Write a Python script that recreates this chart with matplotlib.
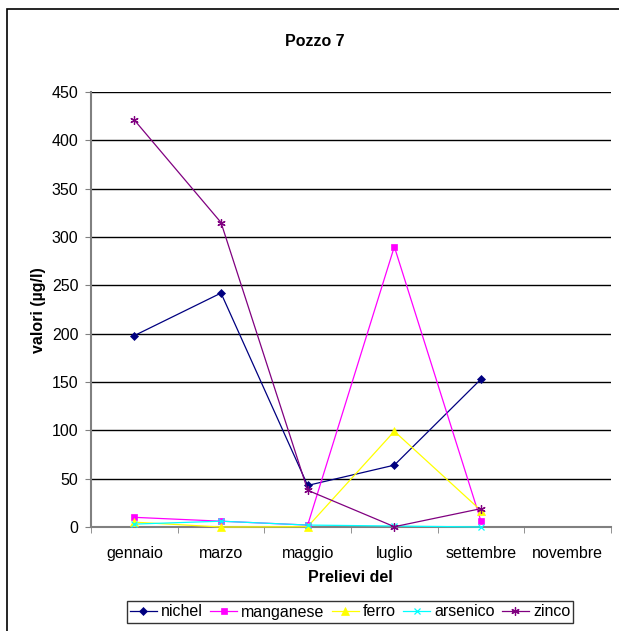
import matplotlib
matplotlib.use("Agg")
import matplotlib.pyplot as plt
from matplotlib.patches import Rectangle

plt.rcParams['font.family'] = ['Liberation Sans', 'DejaVu Sans']

categories = ["gennaio", "marzo", "maggio", "luglio", "settembre", "novembre"]
nichel = [198, 242, 43, 64, 153, None]
manganese = [10, 6, 2, 290, 6, None]
ferro = [5, 0, 0.3, 99, 17, None]
arsenico = [3, 6, 2, 1, 0, None]
zinco = [421, 315, 38, 0.3, 19, None]

series = [
    ("nichel", nichel, "#000080", "D", 4.5),
    ("manganese", manganese, "#FF00FF", "s", 5),
    ("ferro", ferro, "#FFFF00", "^", 5.5),
    ("arsenico", arsenico, "#00FFFF", "x", 5),
    ("zinco", zinco, "#800080", (6, 2, 0), 6),
]

fig = plt.figure(figsize=(6.19, 6.31), dpi=100)
fig.patches.append(Rectangle((7/619, -0.1), 1.2, 1 - 9/631 + 0.1, transform=fig.transFigure,
                             fill=False, edgecolor='black', linewidth=1.2))
ax = fig.add_axes([91/619, 1 - 527/631, (611 - 91)/619, (527 - 92)/631])

x = list(range(len(categories)))
for name, vals, color, marker, ms in series:
    xs = [i for i, v in zip(x, vals) if v is not None]
    ys = [v for v in vals if v is not None]
    ax.plot(xs, ys, color=color, marker=marker, markersize=ms, linewidth=0.9,
            markeredgewidth=0.9 if marker in ("x", (6, 2, 0)) else 0.5,
            markeredgecolor=color, label=name, clip_on=False, zorder=3)

ax.set_xlim(-0.5, len(categories) - 0.5)
ax.set_ylim(0, 450)
ax.set_yticks(range(0, 451, 50))
ax.set_xticks(x)
ax.set_xticklabels(categories)
ax.set_xticks([i - 0.5 for i in range(len(categories) + 1)], minor=True)
ax.tick_params(axis='x', which='major', length=0, pad=14)
ax.tick_params(axis='x', which='minor', length=4, color='#808080', direction='out')
ax.tick_params(axis='y', length=4, color='#808080', direction='out', pad=5)
ax.tick_params(labelsize=11.5)
ax.grid(axis='y', color='black', linewidth=1.0)
ax.set_axisbelow(True)
for s in ('top', 'right'):
    ax.spines[s].set_visible(False)
for s in ('left', 'bottom'):
    ax.spines[s].set_color('#808080')
    ax.spines[s].set_linewidth(1.5)

fig.text(315/619, 1 - 42/631, "Pozzo 7", ha='center', va='center', fontsize=11.5, fontweight='bold')
fig.text(38/619, 1 - 310/631, "valori (µg/l)", ha='center', va='center', rotation=90,
         fontsize=11.5, fontweight='bold')
fig.text(350/619, 1 - 577/631, "Prelievi del", ha='center', va='center', fontsize=11.5, fontweight='bold')

leg = fig.legend(loc='center', bbox_to_anchor=(350/619, 1 - 612/631), ncol=5, fontsize=11.5,
                 frameon=True, fancybox=False, edgecolor='black', handlelength=1.7,
                 columnspacing=0.45, handletextpad=0.25, borderpad=0.2, borderaxespad=0)
leg.get_frame().set_linewidth(1.0)

fig.savefig("out.png", dpi=100)
